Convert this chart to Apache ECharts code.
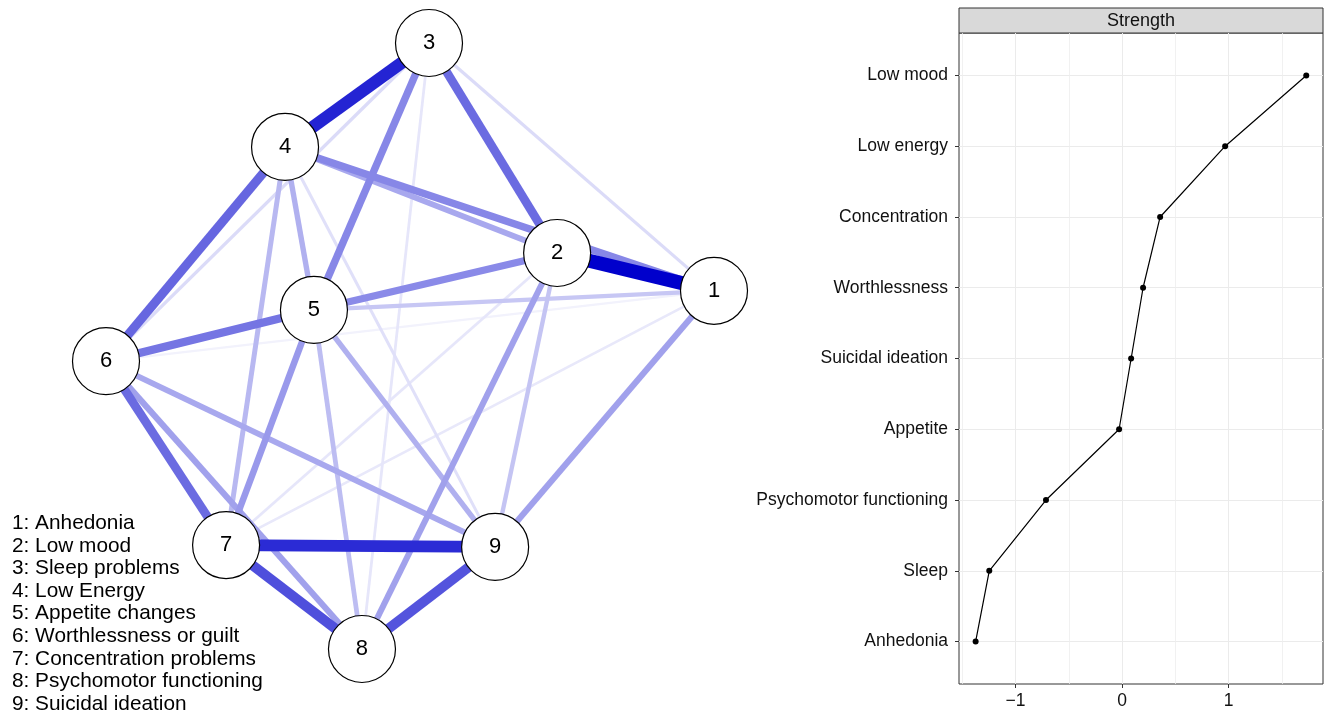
<!DOCTYPE html>
<html>
<head>
<meta charset="utf-8">
<script src="https://cdn.jsdelivr.net/npm/echarts@6/dist/echarts.min.js"></script>
<style>
  html, body { margin: 0; padding: 0; background: #ffffff; }
  #chart { width: 1328px; height: 716px; }
</style>
</head>
<body>
<div id="chart"></div>
<script>
// ---- Symptom network ----
const nodeIds = ['1', '2', '3', '4', '5', '6', '7', '8', '9'];
const nodeNames = ['Anhedonia', 'Low mood', 'Sleep problems', 'Low Energy', 'Appetite changes',
  'Worthlessness or guilt', 'Concentration problems', 'Psychomotor functioning', 'Suicidal ideation'];
// layout coordinates of each node (network layout units)
const layoutX = [1.000, 0.484, 0.0625, -0.411, -0.316, -1.000, -0.605, -0.158, 0.280];
const layoutY = [0.182, 0.307, 1.000, 0.657, 0.119, -0.050, -0.657, -1.000, -0.663];

// partial-correlation edges: from, to, relative weight
const edgeFrom   = [1, 3, 7, 7, 8, 4, 6, 2, 5, 3, 2, 1, 5, 2, 1, 6, 2, 6, 4, 5, 4, 5, 2, 1, 1, 3, 4, 3, 2, 1, 1];
const edgeTo     = [2, 4, 9, 8, 9, 6, 7, 3, 6, 5, 5, 4, 7, 8, 9, 8, 4, 9, 5, 9, 7, 8, 9, 5, 3, 6, 9, 8, 7, 7, 6];
const edgeWeight = [1.00, 0.86, 0.83, 0.69, 0.67, 0.60, 0.58, 0.58, 0.54, 0.47, 0.46, 0.47, 0.40, 0.37, 0.37,
  0.37, 0.34, 0.34, 0.31, 0.31, 0.28, 0.26, 0.23, 0.22, 0.14, 0.14, 0.12, 0.10, 0.10, 0.09, 0.05];

// ---- Strength centrality ----
const strengthLabels = ['Anhedonia', 'Sleep', 'Psychomotor functioning', 'Appetite', 'Suicidal ideation',
  'Worthlessness', 'Concentration', 'Low energy', 'Low mood'];
const strengthValues = [-1.374, -1.246, -0.714, -0.028, 0.085, 0.197, 0.357, 0.967, 1.728];
const strengthTicks = [-1, 0, 1];
const strengthMinorTicks = [-1.5, -0.5, 0.5, 1.5];
const panelTitle = 'Strength';

// edge colour: positive edges fade from saturated blue to white with weight
function edgeColor(w) {
  const c = Math.round(255 * (1 - w));
  const b = Math.round(204 + 51 * (1 - w));
  return 'rgb(' + c + ',' + c + ',' + b + ')';
}
function edgeWidth(w) { return 1.5 + 12.5 * w; }

// weaker edges first so stronger ones sit on top
const edgeOrder = edgeWeight.map((w, i) => i).sort((a, b) => edgeWeight[a] - edgeWeight[b]);

const chart = echarts.init(document.getElementById('chart'), null, { renderer: 'canvas' });
const FONT = 'Liberation Sans, Arial, Helvetica, sans-serif';
const rowIdx = strengthLabels.map((s, i) => i + 1);

const option = {
  animation: false,
  backgroundColor: '#ffffff',
  grid: [
    { left: 106, top: 43, width: 608, height: 606, show: false },
    { left: 959, top: 33, width: 364, height: 651, show: true, borderColor: '#333333', borderWidth: 1, backgroundColor: 'transparent' }
  ],
  xAxis: [
    { gridIndex: 0, type: 'value', min: -1, max: 1, show: false },
    {
      gridIndex: 1, type: 'value', min: -1.53, max: 1.885, position: 'bottom',
      axisLine: { show: false, onZero: false },
      axisTick: { show: true, length: 4, customValues: strengthTicks, lineStyle: { color: '#333333', width: 1 } },
      axisLabel: {
        customValues: strengthTicks, margin: 8, fontSize: 17.5, color: '#111111', fontFamily: FONT,
        formatter: v => (v < 0 ? '\u2212' + Math.abs(v) : String(v))
      },
      splitLine: { show: true, lineStyle: { color: '#ebebeb', width: 1 } }
    },
    {
      gridIndex: 1, type: 'value', min: -1.53, max: 1.885, position: 'bottom',
      axisLine: { show: false, onZero: false },
      axisTick: { show: false, customValues: strengthMinorTicks },
      axisLabel: { show: false, customValues: strengthMinorTicks },
      splitLine: { show: true, lineStyle: { color: '#ededed', width: 0.8 } }
    }
  ],
  yAxis: [
    { gridIndex: 0, type: 'value', min: -1, max: 1, show: false },
    {
      gridIndex: 1, type: 'value', min: 0.4, max: 9.6, position: 'left',
      axisLine: { show: false, onZero: false },
      axisTick: { show: true, length: 4, customValues: rowIdx, lineStyle: { color: '#333333', width: 1 } },
      axisLabel: {
        customValues: rowIdx, margin: 11, fontSize: 17.5, color: '#111111', fontFamily: FONT,
        formatter: v => strengthLabels[Math.round(v) - 1] || ''
      },
      splitLine: { show: true, lineStyle: { color: '#ebebeb', width: 1 } }
    }
  ],
  series: [
    {
      type: 'graph',
      layout: 'none',
      coordinateSystem: 'cartesian2d',
      xAxisIndex: 0,
      yAxisIndex: 0,
      symbol: 'circle',
      symbolSize: 67,
      silent: true,
      itemStyle: { color: '#ffffff', borderColor: '#000000', borderWidth: 1.2 },
      label: { show: true, position: 'inside', fontSize: 22, color: '#000000', fontFamily: FONT, formatter: '{b}' },
      lineStyle: { opacity: 1, curveness: 0 },
      emphasis: { disabled: true },
      data: nodeIds.map((id, i) => ({ name: id, value: [layoutX[i], layoutY[i]] })),
      links: edgeOrder.map(k => ({
        source: String(edgeFrom[k]),
        target: String(edgeTo[k]),
        lineStyle: { color: edgeColor(edgeWeight[k]), width: edgeWidth(edgeWeight[k]), opacity: 1 }
      }))
    },
    {
      type: 'line',
      xAxisIndex: 1,
      yAxisIndex: 1,
      data: strengthValues.map((v, i) => [v, i + 1]),
      symbol: 'circle',
      symbolSize: 6,
      showSymbol: true,
      silent: true,
      itemStyle: { color: '#000000' },
      lineStyle: { color: '#000000', width: 1.2 },
      emphasis: { disabled: true }
    }
  ],
  graphic: [
    {
      type: 'text',
      left: 12,
      top: 512,
      style: {
        text: nodeNames.map((n, i) => nodeIds[i] + ': ' + n).join('\n'),
        font: '20.8px ' + FONT,
        lineHeight: 22.6,
        fill: '#000000'
      }
    },
    {
      type: 'rect',
      shape: { x: 959, y: 8, width: 364, height: 25 },
      style: { fill: '#d9d9d9', stroke: '#333333', lineWidth: 1 }
    },
    {
      type: 'text',
      x: 1141,
      y: 21,
      style: { text: panelTitle, font: '18px ' + FONT, fill: '#111111', align: 'center', verticalAlign: 'middle' }
    }
  ]
};
chart.setOption(option);
</script>
</body>
</html>
